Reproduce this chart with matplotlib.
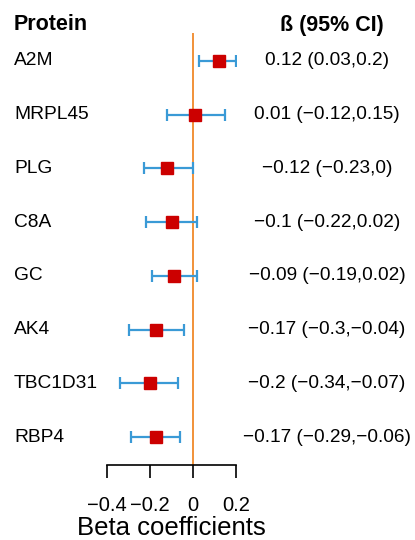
import matplotlib
matplotlib.use("Agg")
import matplotlib.pyplot as plt
import matplotlib.transforms as mtransforms

proteins = ["A2M", "MRPL45", "PLG", "C8A", "GC", "AK4", "TBC1D31", "RBP4"]
beta = [0.12, 0.01, -0.12, -0.1, -0.09, -0.17, -0.2, -0.17]
lower = [0.03, -0.12, -0.23, -0.22, -0.19, -0.3, -0.34, -0.29]
upper = [0.2, 0.15, 0, 0.02, 0.02, -0.04, -0.07, -0.06]
ci_labels = ["0.12 (0.03,0.2)", "0.01 (\u22120.12,0.15)", "\u22120.12 (\u22120.23,0)",
             "\u22120.1 (\u22120.22,0.02)", "\u22120.09 (\u22120.19,0.02)",
             "\u22120.17 (\u22120.3,\u22120.04)", "\u22120.2 (\u22120.34,\u22120.07)",
             "\u22120.17 (\u22120.29,\u22120.06)"]
xticks = [-0.4, -0.2, 0, 0.2]
xticklabels = ["\u22120.4", "\u22120.2", "0", "0.2"]

plt.rcParams['font.family'] = ['Liberation Sans', 'DejaVu Sans']

W, H = 415, 540
fig = plt.figure(figsize=(W / 100, H / 100), dpi=100)
ax = fig.add_axes([107 / W, 75 / H, (236 - 107) / W, (465 - 33) / H])

ys = list(range(len(proteins)))
xerr = [[b - l for b, l in zip(beta, lower)], [u - b for b, u in zip(beta, upper)]]

ax.axvline(0, color="#F0892A", lw=1.3, zorder=1)
ax.errorbar(beta, ys, xerr=xerr, fmt="none", ecolor="#3A9AD6", elinewidth=1.6,
            capsize=4.5, capthick=1.6, zorder=2)
ax.plot(beta, ys, "s", color="#CC0000", markersize=8, zorder=3, linestyle="none")

ax.set_xlim(-0.4, 0.2)
ax.set_ylim(7.52, -0.52)
for s in ["top", "right", "left"]:
    ax.spines[s].set_visible(False)
ax.spines["bottom"].set_bounds(-0.4, 0.2)
ax.spines["bottom"].set_linewidth(1.2)
ax.set_yticks([])
ax.set_xticks(xticks)
ax.set_xticklabels(xticklabels, fontsize=14.5)
ax.tick_params(axis="x", direction="out", length=9, width=1.2, pad=13)
ax.patch.set_visible(False)

fig.text(171 / W, 1 - 535 / H, "Beta coefficients", ha="center", va="baseline", fontsize=18.5)

trans = mtransforms.blended_transform_factory(fig.transFigure, ax.transData)
for y, p, c in zip(ys, proteins, ci_labels):
    ax.text(14 / W, y, p, transform=trans, ha="left", va="center", fontsize=13.8, clip_on=False)
    ax.text(327 / W, y, c, transform=trans, ha="center", va="center", fontsize=13.7, clip_on=False)

fig.text(14 / W, 1 - 25 / H, "Protein", ha="left", va="center", fontsize=15.5, fontweight="bold")
fig.text(332 / W, 1 - 25 / H, "\u00df (95% CI)", ha="center", va="center", fontsize=15.5, fontweight="bold")

fig.savefig("out.png", dpi=100)
